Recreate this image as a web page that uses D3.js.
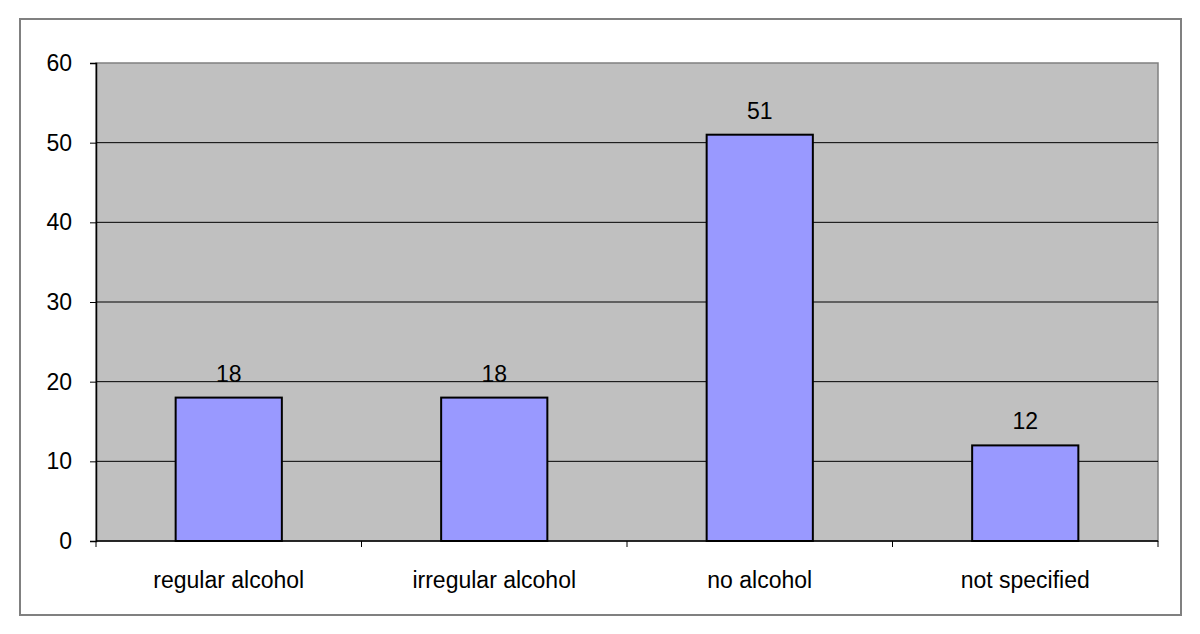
<!DOCTYPE html>
<html>
<head>
<meta charset="utf-8">
<script src="https://cdn.jsdelivr.net/npm/d3@7"></script>
<style>
  body { margin: 0; background: #fff; }
  text { font-family: "Liberation Sans", Arial, sans-serif; }
</style>
</head>
<body>
<div id="chart"></div>
<script>
var categories = ["regular alcohol", "irregular alcohol", "no alcohol", "not specified"];
var values = [18, 18, 51, 12];
var yTicks = [0, 10, 20, 30, 40, 50, 60];

var width = 1200, height = 634;
var margin = {top: 63, right: 42, bottom: 93, left: 96};
var innerW = width - margin.left - margin.right;
var innerH = height - margin.top - margin.bottom;
var fontSize = "23px";

var svg = d3.select("#chart").append("svg")
  .attr("width", width)
  .attr("height", height);

// outer frame
svg.append("rect")
  .attr("x", 20).attr("y", 19)
  .attr("width", 1161).attr("height", 596)
  .attr("fill", "#fff")
  .attr("stroke", "#808080")
  .attr("stroke-width", 2);

var g = svg.append("g")
  .attr("transform", "translate(" + margin.left + "," + margin.top + ")");

var x = d3.scaleBand().domain(categories).range([0, innerW]).paddingInner(0).paddingOuter(0);
var y = d3.scaleLinear().domain([0, 60]).range([innerH, 0]);

// plot background
g.append("rect")
  .attr("width", innerW).attr("height", innerH)
  .attr("fill", "#c0c0c0")
  .attr("stroke", "#808080")
  .attr("stroke-width", 1.5);

// gridlines
g.selectAll(".grid")
  .data(yTicks.filter(d => d > 0 && d < 60))
  .enter().append("line")
  .attr("x1", 0).attr("x2", innerW)
  .attr("y1", d => y(d)).attr("y2", d => y(d))
  .attr("stroke", "#000")
  .attr("stroke-width", 1);

// bars
var barW = x.bandwidth() * 0.4;
g.selectAll(".bar")
  .data(values)
  .enter().append("rect")
  .attr("class", "bar")
  .attr("x", (d, i) => x(categories[i]) + (x.bandwidth() - barW) / 2)
  .attr("y", d => y(d))
  .attr("width", barW)
  .attr("height", d => innerH - y(d))
  .attr("fill", "#9999ff")
  .attr("stroke", "#000")
  .attr("stroke-width", 2);

// value labels
g.selectAll(".val")
  .data(values)
  .enter().append("text")
  .attr("x", (d, i) => x(categories[i]) + x.bandwidth() / 2)
  .attr("y", d => y(d) - 16)
  .attr("text-anchor", "middle")
  .style("font-size", fontSize)
  .attr("fill", "#000")
  .text(d => d);

// y axis
var yAxis = d3.axisLeft(y).tickValues(yTicks).tickSize(6).tickPadding(18);
var ya = g.append("g").call(yAxis);
ya.select(".domain").attr("stroke", "#000").attr("stroke-width", 1.5);
ya.selectAll("line").attr("stroke", "#000");
ya.selectAll("text").style("font-size", fontSize).attr("fill", "#000");

// x axis
var xa = g.append("g").attr("transform", "translate(0," + innerH + ")");
xa.append("line")
  .attr("x1", 0).attr("x2", innerW)
  .attr("stroke", "#000").attr("stroke-width", 1.5);
xa.selectAll(".tick")
  .data(categories.map(c => x(c)).concat([innerW]))
  .enter().append("line")
  .attr("x1", d => d).attr("x2", d => d)
  .attr("y1", 0).attr("y2", 6)
  .attr("stroke", "#000");
xa.selectAll(".lbl")
  .data(categories)
  .enter().append("text")
  .attr("x", d => x(d) + x.bandwidth() / 2)
  .attr("y", 47)
  .attr("text-anchor", "middle")
  .style("font-size", fontSize)
  .attr("fill", "#000")
  .text(d => d);
</script>
</body>
</html>
